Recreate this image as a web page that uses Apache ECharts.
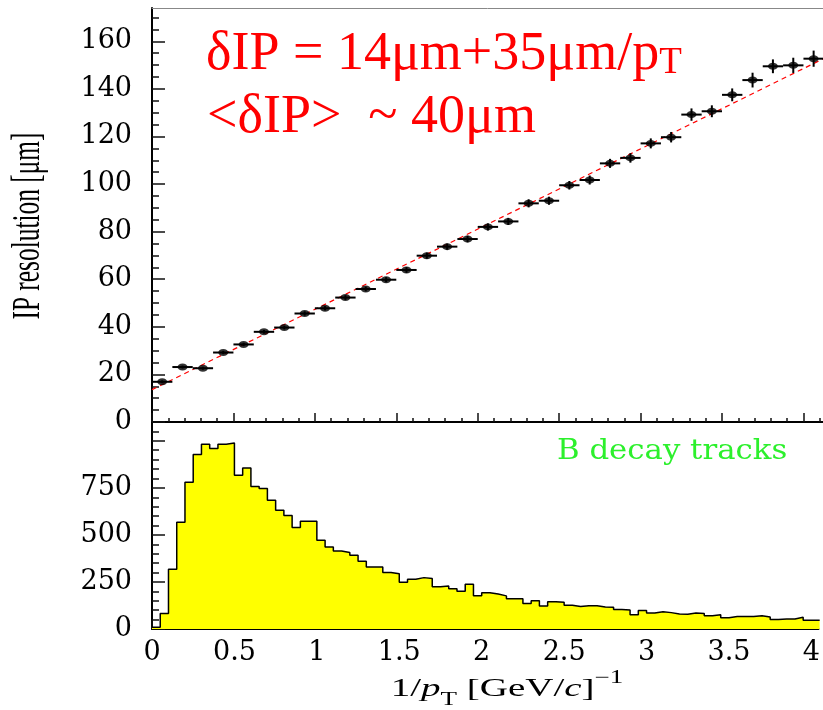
<!DOCTYPE html>
<html>
<head>
<meta charset="utf-8">
<script src="https://cdn.jsdelivr.net/npm/echarts@6/dist/echarts.min.js"></script>
<style>
html,body{margin:0;padding:0;background:#fff;}
#c{width:823px;height:710px;}
</style>
</head>
<body>
<div id="c"></div>
<script>
// ---- Top panel: IP resolution vs 1/pT (bin centers, values, errors) ----
const ipBinCenters = [0.0625, 0.1875, 0.3125, 0.4375, 0.5625, 0.6875, 0.8125, 0.9375, 1.0625, 1.1875,
  1.3125, 1.4375, 1.5625, 1.6875, 1.8125, 1.9375, 2.0625, 2.1875, 2.3125, 2.4375,
  2.5625, 2.6875, 2.8125, 2.9375, 3.0625, 3.1875, 3.3125, 3.4375, 3.5625, 3.6875,
  3.8125, 3.9375, 4.0625];
const ipBinHalfWidth = 0.0625;
const ipResolution = [16.9, 23.1, 22.6, 29.2, 32.6, 37.9, 39.7, 45.6, 47.8, 52.3,
  55.9, 59.8, 63.9, 69.9, 73.7, 76.9, 82.0, 84.3, 91.9, 93.0,
  99.5, 101.7, 108.7, 111.0, 117.1, 119.7, 129.2, 130.6, 137.5, 143.7,
  149.5, 149.9, 152.7];
const ipError = [0.6, 0.6, 0.6, 0.7, 0.7, 0.8, 0.8, 0.9, 0.9, 1.0,
  1.0, 1.1, 1.2, 1.3, 1.3, 1.4, 1.5, 1.5, 1.7, 1.7,
  1.8, 1.9, 1.9, 2.0, 2.1, 2.2, 2.6, 2.5, 2.7, 3.1,
  2.9, 3.2, 3.4];
// fitted line end points
const fitX = [0, 4.12];
const fitY = [13.6, 152.6];

// ---- Bottom panel: B decay tracks histogram ----
const histStart = 0;
const histBinWidth = 0.05;
const histCounts = [9, 83, 317, 567, 780, 927, 982, 959, 982, 988,
  817, 856, 757, 746, 684, 631, 603, 539, 573, 573,
  472, 436, 415, 406, 392, 360, 330, 330, 300, 294,
  248, 264, 273, 268, 225, 229, 214, 200, 238, 177,
  193, 186, 176, 161, 161, 135, 150, 122, 145, 142,
  126, 119, 124, 124, 117, 115, 103, 101, 76, 98,
  85, 92, 87, 80, 78, 85, 82, 71, 76, 60,
  66, 67, 67, 71, 64, 50, 53, 53, 62, 46,
  46];

// ---- Tick labels ----
const xTicks = [0, 0.5, 1, 1.5, 2, 2.5, 3, 3.5, 4];
const topYTicks = [0, 20, 40, 60, 80, 100, 120, 140, 160];
const bottomYTicks = [0, 250, 500, 750, 1000];
const bottomYLabels = [0, 250, 500, 750];

const numFont = 'DejaVu Serif';
const textFont = 'Liberation Serif';

const chart = echarts.init(document.getElementById('c'), null, {renderer: 'canvas'});

const tickStyle = {color: '#111', width: 1.5};
const axisLineStyle = {color: '#000', width: 2};

const histPoints = histCounts.map((v, i) => [histStart + i * histBinWidth, v]);
histPoints.push([histStart + histCounts.length * histBinWidth, histCounts[histCounts.length - 1]]);

const option = {
  animation: false,
  backgroundColor: '#ffffff',
  grid: [
    {left: 152, top: 8, width: 671, height: 414},
    {left: 152, top: 422, width: 671, height: 207}
  ],
  xAxis: [
    {
      gridIndex: 0, type: 'value', min: 0, max: 4.12, interval: 0.5, position: 'bottom',
      axisLine: {show: true, onZero: false, lineStyle: axisLineStyle},
      axisTick: {show: true, inside: true, length: 9, customValues: xTicks, lineStyle: tickStyle},
      minorTick: {show: true, splitNumber: 5, length: 4, lineStyle: tickStyle},
      axisLabel: {show: false},
      splitLine: {show: false}, minorSplitLine: {show: false}
    },
    {
      gridIndex: 0, type: 'value', min: 0, max: 4.12, position: 'top',
      axisLine: {show: true, onZero: false, lineStyle: {color: '#888', width: 1}},
      axisTick: {show: false}, axisLabel: {show: false}, splitLine: {show: false}
    },
    {
      gridIndex: 1, type: 'value', min: 0, max: 4.043, interval: 0.5, position: 'bottom',
      axisLine: {show: true, onZero: false, lineStyle: axisLineStyle},
      axisTick: {show: true, inside: true, length: 9, customValues: xTicks, lineStyle: tickStyle},
      minorTick: {show: true, splitNumber: 5, length: 4, lineStyle: tickStyle},
      axisLabel: {show: true, customValues: xTicks, fontFamily: numFont, fontSize: 27, color: '#000', margin: 10},
      splitLine: {show: false}, minorSplitLine: {show: false}
    }
  ],
  yAxis: [
    {
      gridIndex: 0, type: 'value', min: 0, max: 174, interval: 20,
      axisLine: {show: true, onZero: false, lineStyle: axisLineStyle},
      axisTick: {show: true, inside: true, length: 13, customValues: topYTicks, lineStyle: tickStyle},
      minorTick: {show: true, splitNumber: 4, length: 7, lineStyle: tickStyle},
      axisLabel: {show: true, customValues: topYTicks, fontFamily: numFont, fontSize: 27, color: '#000', margin: 20},
      splitLine: {show: false}, minorSplitLine: {show: false}
    },
    {
      gridIndex: 1, type: 'value', min: 0, max: 1100, interval: 250,
      axisLine: {show: true, onZero: false, lineStyle: axisLineStyle},
      axisTick: {show: true, inside: true, length: 13, customValues: bottomYTicks, lineStyle: tickStyle},
      minorTick: {show: true, splitNumber: 5, length: 7, lineStyle: tickStyle},
      axisLabel: {show: true, customValues: bottomYLabels, fontFamily: numFont, fontSize: 27, color: '#000', margin: 20},
      splitLine: {show: false}, minorSplitLine: {show: false}
    }
  ],
  series: [
    {
      name: 'fit', type: 'line', xAxisIndex: 0, yAxisIndex: 0,
      data: fitX.map((x, i) => [x, fitY[i]]),
      symbol: 'none', silent: true, z: 2,
      lineStyle: {color: '#ff0000', width: 1.2, type: [5, 4]}
    },
    {
      name: 'errors', type: 'custom', xAxisIndex: 0, yAxisIndex: 0, z: 3,
      data: ipBinCenters.map((x, i) => [x, ipResolution[i], ipError[i]]),
      encode: {x: 0, y: 1},
      renderItem: function (params, api) {
        const x = api.value(0), y = api.value(1), e = api.value(2);
        const l = api.coord([x - ipBinHalfWidth, y]);
        const r = api.coord([x + ipBinHalfWidth, y]);
        const t = api.coord([x, y + e]);
        const b = api.coord([x, y - e]);
        return {
          type: 'group',
          children: [
            {type: 'line', shape: {x1: l[0], y1: l[1], x2: r[0], y2: r[1]}, style: {stroke: '#000', lineWidth: 2}},
            {type: 'line', shape: {x1: t[0], y1: t[1], x2: b[0], y2: b[1]}, style: {stroke: '#000', lineWidth: 2}}
          ]
        };
      }
    },
    {
      name: 'IP resolution', type: 'scatter', xAxisIndex: 0, yAxisIndex: 0, z: 4,
      data: ipBinCenters.map((x, i) => [x, ipResolution[i]]),
      symbol: 'circle', symbolSize: [10, 7],
      itemStyle: {color: '#000'}
    },
    {
      name: 'B decay tracks', type: 'line', xAxisIndex: 2, yAxisIndex: 1,
      data: histPoints, step: 'end', symbol: 'none', z: 2,
      lineStyle: {color: '#000', width: 1.5},
      areaStyle: {color: '#ffff00', opacity: 1}
    }
  ],
  graphic: [
    {
      type: 'text', x: 206, y: 54.5, z: 10,
      style: {
        text: '{m|δIP = 14μm+35μm/p}{s|T}',
        align: 'left', verticalAlign: 'middle',
        rich: {
          m: {fontFamily: textFont, fontSize: 54, lineHeight: 54, fill: '#ff0000'},
          s: {fontFamily: textFont, fontSize: 37, lineHeight: 16, verticalAlign: 'bottom', fill: '#ff0000'}
        }
      }
    },
    {
      type: 'text', x: 207, y: 117.5, z: 10,
      style: {
        text: '<δIP>  ~ 40μm',
        fontFamily: textFont, fontSize: 54, fill: '#ff0000',
        align: 'left', verticalAlign: 'middle'
      }
    },
    {
      type: 'text', x: 557, y: 452, z: 10, scaleX: 1.14,
      style: {
        text: 'B decay tracks',
        fontFamily: numFont, fontSize: 27, fill: '#2cf02c',
        align: 'left', verticalAlign: 'middle'
      }
    },
    {
      type: 'text', x: 28.5, y: 226, z: 10, rotation: Math.PI / 2, scaleX: 0.635,
      style: {
        text: 'IP resolution [μm]',
        fontFamily: textFont, fontSize: 40, fill: '#000',
        align: 'center', verticalAlign: 'middle'
      }
    },
    {
      type: 'text', x: 507, y: 689, z: 10, scaleX: 1.5,
      style: {
        text: '{n|1/}{i|p}{s|T}{n| [GeV/}{i|c}{n|]}{u|−1}',
        align: 'center', verticalAlign: 'middle',
        rich: {
          n: {fontFamily: textFont, fontSize: 26, lineHeight: 40, fill: '#000'},
          i: {fontFamily: textFont, fontSize: 26, lineHeight: 40, fontStyle: 'italic', fill: '#000'},
          s: {fontFamily: textFont, fontSize: 18, lineHeight: 14, verticalAlign: 'bottom', fill: '#000'},
          u: {fontFamily: textFont, fontSize: 18, lineHeight: 25, verticalAlign: 'top', fill: '#000'}
        }
      }
    }
  ]
};

chart.setOption(option);
</script>
</body>
</html>
